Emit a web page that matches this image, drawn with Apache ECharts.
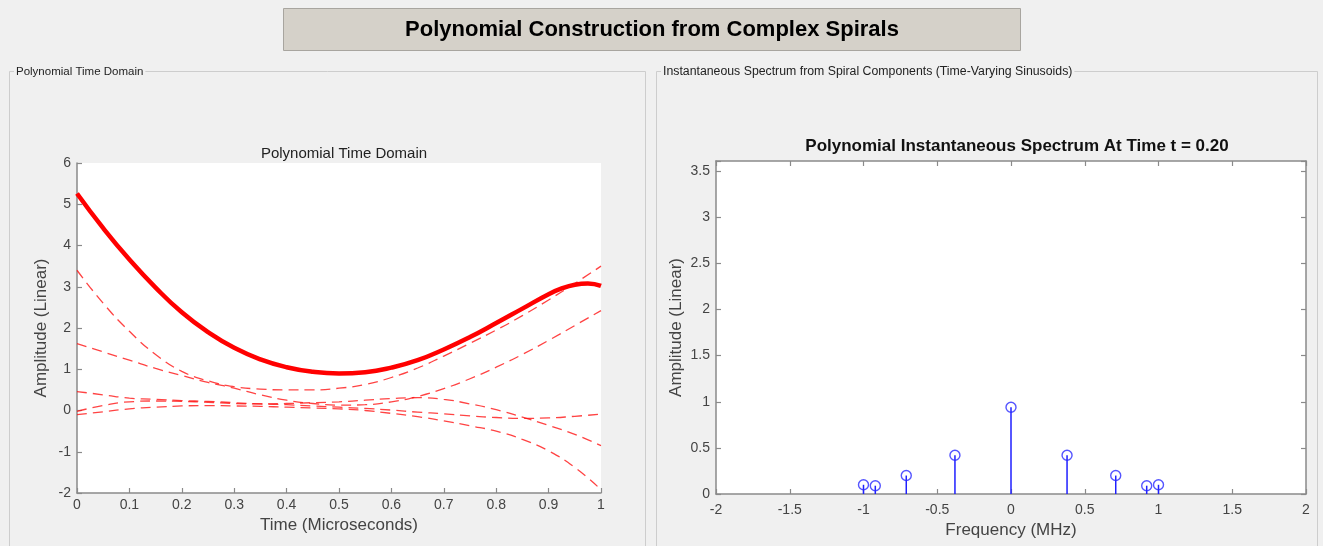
<!DOCTYPE html>
<html>
<head>
<meta charset="utf-8">
<script src="https://cdn.jsdelivr.net/npm/echarts@6/dist/echarts.min.js"></script>
<style>
html,body{margin:0;padding:0;background:#f0f0f0;}
#chart{width:1323px;height:546px;}
</style>
</head>
<body>
<div id="chart"></div>
<script>
// ---- data ----
// dashed spiral-pair components (real sinusoids), sampled every 0.05 us
const timeValues = [0, 0.05, 0.1, 0.15, 0.2, 0.25, 0.3, 0.35, 0.4, 0.45, 0.5, 0.55, 0.6, 0.65, 0.7, 0.75, 0.8, 0.85, 0.9, 0.95, 1];
const componentA = [3.40, 2.60, 1.92, 1.36, 0.95, 0.72, 0.58, 0.52, 0.50, 0.50, 0.54, 0.63, 0.80, 1.03, 1.32, 1.63, 1.95, 2.30, 2.68, 3.08, 3.50];
const componentB = [1.62, 1.42, 1.22, 1.02, 0.85, 0.68, 0.54, 0.38, 0.25, 0.17, 0.13, 0.14, 0.21, 0.34, 0.53, 0.77, 1.05, 1.36, 1.70, 2.06, 2.42];
const componentC = [0.46, 0.38, 0.30, 0.27, 0.24, 0.22, 0.19, 0.16, 0.14, 0.11, 0.08, 0.05, 0.01, -0.04, -0.08, -0.13, -0.17, -0.19, -0.18, -0.14, -0.09];
const componentD = [-0.02, 0.12, 0.21, 0.23, 0.22, 0.20, 0.17, 0.16, 0.17, 0.19, 0.21, 0.25, 0.29, 0.31, 0.27, 0.16, 0.02, -0.16, -0.36, -0.58, -0.85];
const componentE = [-0.10, -0.03, 0.04, 0.08, 0.11, 0.12, 0.11, 0.10, 0.08, 0.06, 0.04, 0.00, -0.07, -0.15, -0.25, -0.37, -0.50, -0.70, -0.98, -1.38, -1.92];
// thick polynomial curve
const sumTimeValues = [0, 0.05, 0.1, 0.15, 0.2, 0.25, 0.3, 0.35, 0.4, 0.45, 0.5, 0.55, 0.6, 0.65, 0.7, 0.75, 0.8, 0.85, 0.9, 0.925, 0.95, 0.975, 1];
const polynomialSum = [5.26, 4.42, 3.66, 2.98, 2.38, 1.90, 1.52, 1.24, 1.05, 0.94, 0.90, 0.93, 1.04, 1.22, 1.48, 1.78, 2.12, 2.47, 2.82, 2.96, 3.05, 3.08, 3.02];

const spectrumFreq = [-1, -0.92, -0.71, -0.38, 0, 0.38, 0.71, 0.92, 1];
const spectrumAmp = [0.10, 0.09, 0.20, 0.42, 0.94, 0.42, 0.20, 0.09, 0.10];

const mainTitle = 'Polynomial Construction from Complex Spirals';
const leftPanelTitle = 'Polynomial Time Domain';
const rightPanelTitle = 'Instantaneous Spectrum from Spiral Components (Time-Varying Sinusoids)';
const leftChartTitle = 'Polynomial Time Domain';
const rightChartTitle = 'Polynomial Instantaneous Spectrum At Time t = 0.20';
const leftXName = 'Time (Microseconds)';
const rightXName = 'Frequency (MHz)';
const yName = 'Amplitude (Linear)';

// ---- build ----
const FONT = '"Liberation Sans", Arial, Helvetica, sans-serif';
const pairs = (ts, arr) => ts.map((t, i) => [t, arr[i]]);
const axisGray = '#8a8a8a';
const labelGray = '#444';
const TICK_FS = 14;
const NAME_FS = 17;

const chart = echarts.init(document.getElementById('chart'), null, {renderer: 'canvas'});

function dashed(arr) {
  return {
    type: 'line', xAxisIndex: 0, yAxisIndex: 0, data: pairs(timeValues, arr), smooth: true,
    showSymbol: false, symbol: 'none', z: 3,
    lineStyle: {color: 'rgba(255,20,20,0.8)', width: 1.3, type: [10, 6]}
  };
}

const multOf = (v, step) => Math.abs(v / step - Math.round(v / step)) < 1e-6;

const tickCommon = {inside: true, length: 5, lineStyle: {color: axisGray, width: 1.2}};
const lineCommon = {onZero: false, lineStyle: {color: axisGray, width: 1.5}};

const option = {
  backgroundColor: '#f0f0f0',
  animation: false,
  textStyle: {fontFamily: FONT},
  graphic: [
    {type: 'rect', shape: {x: 9.5, y: 71.5, width: 636, height: 500}, style: {fill: 'none', stroke: '#cdcdcd', lineWidth: 1}, z: 0},
    {type: 'rect', shape: {x: 656.5, y: 71.5, width: 661, height: 500}, style: {fill: 'none', stroke: '#cdcdcd', lineWidth: 1}, z: 0},
    {type: 'text', x: 14, y: 72, style: {text: leftPanelTitle, font: '11.5px ' + FONT, fill: '#222', backgroundColor: '#f0f0f0', padding: [0, 2], verticalAlign: 'middle'}, z: 1},
    {type: 'text', x: 661, y: 72, style: {text: rightPanelTitle, font: '12.3px ' + FONT, fill: '#222', backgroundColor: '#f0f0f0', padding: [0, 2], verticalAlign: 'middle'}, z: 1},
    {type: 'rect', shape: {x: 283.5, y: 8.5, width: 737, height: 42}, style: {fill: '#d5d1c9', stroke: '#a8a59f', lineWidth: 1}, z: 0},
    {type: 'text', x: 652, y: 30, style: {text: mainTitle, font: 'bold 22px ' + FONT, fill: '#000', align: 'center', verticalAlign: 'middle'}, z: 1}
  ],
  title: [
    {text: leftChartTitle, left: 339, top: 141, textAlign: 'center',
     textStyle: {fontSize: 15, fontWeight: 'normal', color: '#222', fontFamily: FONT}},
    {text: rightChartTitle, left: 1012, top: 133, textAlign: 'center',
     textStyle: {fontSize: 17, fontWeight: 'bold', color: '#111', fontFamily: FONT}}
  ],
  grid: [
    {left: 77, right: 722, top: 163, bottom: 53, show: true, backgroundColor: '#ffffff', borderWidth: 0},
    {left: 716, right: 17, top: 161, bottom: 52, show: true, backgroundColor: '#ffffff', borderWidth: 0}
  ],
  xAxis: [
    {gridIndex: 0, type: 'value', min: 0, max: 1, interval: 0.1,
     name: leftXName, nameLocation: 'middle', nameGap: 24,
     nameTextStyle: {fontSize: NAME_FS, color: labelGray, fontFamily: FONT},
     axisLine: lineCommon, axisTick: tickCommon,
     axisLabel: {fontSize: TICK_FS, color: labelGray, margin: 5, fontFamily: FONT},
     splitLine: {show: false}},
    {gridIndex: 1, type: 'value', min: -2, max: 2, interval: 0.5,
     name: rightXName, nameLocation: 'middle', nameGap: 28,
     nameTextStyle: {fontSize: NAME_FS, color: labelGray, fontFamily: FONT},
     axisLine: lineCommon, axisTick: tickCommon,
     axisLabel: {fontSize: TICK_FS, color: labelGray, margin: 9, fontFamily: FONT},
     splitLine: {show: false}},
    {gridIndex: 1, type: 'value', position: 'top', min: -2, max: 2, interval: 0.5,
     axisLine: lineCommon, axisTick: tickCommon,
     axisLabel: {show: false}, splitLine: {show: false}}
  ],
  yAxis: [
    {gridIndex: 0, type: 'value', min: -2, max: 6, interval: 1,
     name: yName, nameLocation: 'middle', nameGap: 27,
     nameTextStyle: {fontSize: NAME_FS, color: labelGray, fontFamily: FONT},
     axisLine: lineCommon, axisTick: tickCommon,
     axisLabel: {fontSize: TICK_FS, color: labelGray, margin: 6, fontFamily: FONT},
     splitLine: {show: false}},
    {gridIndex: 1, type: 'value', min: 0, max: 3.61, interval: 0.5,
     name: yName, nameLocation: 'middle', nameGap: 31,
     nameTextStyle: {fontSize: NAME_FS, color: labelGray, fontFamily: FONT},
     axisLine: lineCommon, axisTick: tickCommon,
     axisLabel: {fontSize: TICK_FS, color: labelGray, margin: 6, fontFamily: FONT,
       formatter: v => multOf(v, 0.5) ? String(Math.round(v * 10) / 10) : ''},
     splitLine: {show: false}},
    {gridIndex: 1, type: 'value', position: 'right', min: 0, max: 3.61, interval: 0.5,
     axisLine: lineCommon, axisTick: tickCommon,
     axisLabel: {show: false}, splitLine: {show: false}}
  ],
  series: [
    dashed(componentA), dashed(componentB), dashed(componentC), dashed(componentD), dashed(componentE),
    {type: 'line', xAxisIndex: 0, yAxisIndex: 0, data: pairs(sumTimeValues, polynomialSum), smooth: true,
     showSymbol: false, symbol: 'none', z: 4,
     lineStyle: {color: '#ff0000', width: 4.5}},
    {type: 'custom', xAxisIndex: 1, yAxisIndex: 1,
     data: spectrumFreq.map((f, i) => [f, spectrumAmp[i]]),
     renderItem: function (params, api) {
       const p0 = api.coord([api.value(0), 0]);
       const p1 = api.coord([api.value(0), api.value(1)]);
       return {type: 'line', shape: {x1: p0[0], y1: p0[1], x2: p1[0], y2: p1[1]},
               style: {stroke: '#1f1fff', lineWidth: 1.5}};
     }, z: 3},
    {type: 'scatter', xAxisIndex: 1, yAxisIndex: 1,
     data: spectrumFreq.map((f, i) => [f, spectrumAmp[i]]),
     symbol: 'circle', symbolSize: 10,
     itemStyle: {color: 'rgba(255,255,255,0)', borderColor: '#2a2aff', borderWidth: 1.4}, z: 4}
  ]
};
chart.setOption(option);
</script>
</body>
</html>
